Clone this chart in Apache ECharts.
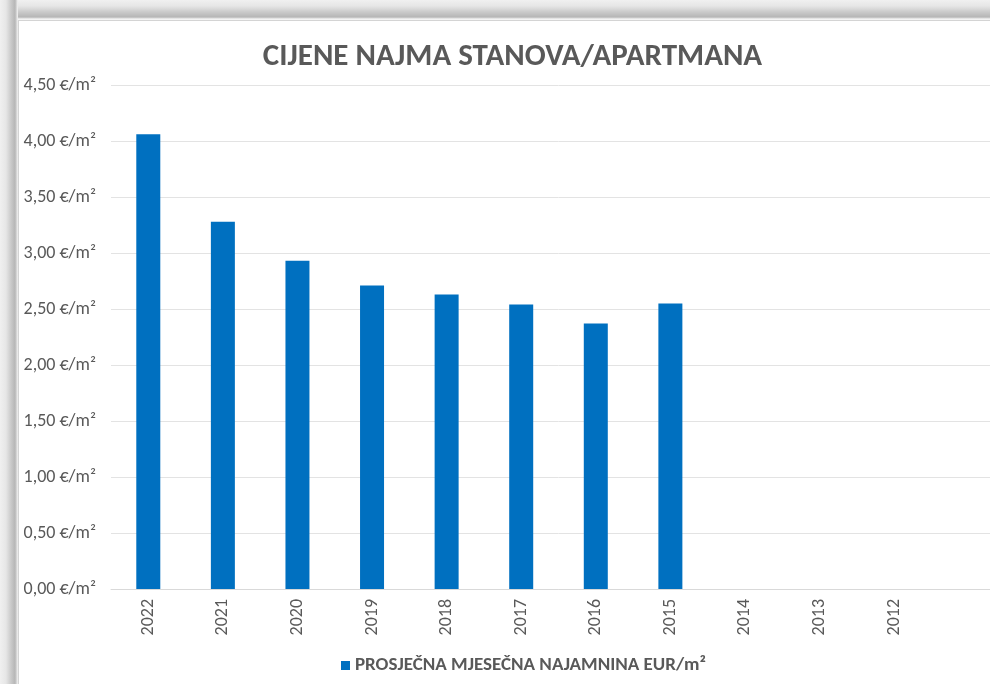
<!DOCTYPE html>
<html>
<head>
<meta charset="utf-8">
<script src="https://cdn.jsdelivr.net/npm/echarts@6/dist/echarts.min.js"></script>
<style>
  html, body { margin: 0; padding: 0; width: 990px; height: 684px; overflow: hidden; }
  body {
    background: linear-gradient(to bottom, #f0f0f0 0px, #e6e6e6 6px, #cacaca 12px, #b6b6b6 17px, #f4f4f4 19px);
  }
  #left-shade {
    position: absolute; left: 0; top: 0; width: 18px; height: 684px;
    background: linear-gradient(to right, #f0f0f0 0px, #e6e6e6 6px, #cacaca 11px, #b6b6b6 15px, #f4f4f4 18px);
  }
  #chart-box {
    position: absolute; left: 18px; top: 20px; width: 988px; height: 680px;
    background: #fff; border-top: 1px solid #d4d4d4; border-left: 1px solid #d4d4d4;
    box-sizing: border-box;
  }
</style>
</head>
<body>
<div id="left-shade"></div>
<div id="chart-box"></div>
<script>
const years = ['2022', '2021', '2020', '2019', '2018', '2017', '2016', '2015', '2014', '2013', '2012', '']
const rent = [4.06, 3.28, 2.93, 2.71, 2.63, 2.54, 2.37, 2.55, null, null, null, null]
const seriesName = 'PROSJEČNA MJESEČNA NAJAMNINA EUR/m²'
const titleText = 'CIJENE NAJMA STANOVA/APARTMANA'

const fontFamily = 'Carlito, "Open Sans", sans-serif'
const textColor = '#595959'

let chart = echarts.init(document.getElementById('chart-box'))
chart.setOption({
  animation: false,
  textStyle: { fontFamily: fontFamily },
  title: {
    text: titleText,
    left: 'center',
    top: 16,
    textStyle: { color: textColor, fontSize: 31, fontWeight: 'bold', fontFamily: fontFamily }
  },
  legend: {
    left: 317,
    top: 630,
    itemWidth: 9,
    itemHeight: 9,
    icon: 'rect',
    itemGap: 6,
    textStyle: { color: textColor, fontSize: 19, fontWeight: 'bold', fontFamily: fontFamily },
    data: [seriesName]
  },
  grid: {
    left: 92,
    top: 64,
    width: 896,
    height: 504
  },
  xAxis: {
    type: 'category',
    data: years,
    axisTick: { show: false },
    axisLine: { lineStyle: { color: '#d9d9d9', width: 1 } },
    axisLabel: { rotate: 90, color: textColor, fontSize: 18, margin: 10, fontFamily: fontFamily }
  },
  yAxis: {
    type: 'value',
    min: 0,
    max: 4.5,
    interval: 0.5,
    splitLine: { lineStyle: { color: '#e3e3e3', width: 1 } },
    axisLabel: {
      color: textColor,
      fontSize: 18,
      margin: 15,
      fontFamily: fontFamily,
      formatter: function (v) {
        return v.toFixed(2).replace('.', ',') + ' €/m²'
      }
    }
  },
  series: [
    {
      name: seriesName,
      type: 'bar',
      barWidth: 24,
      itemStyle: { color: '#0070c0' },
      data: rent
    }
  ]
})
</script>
</body>
</html>
